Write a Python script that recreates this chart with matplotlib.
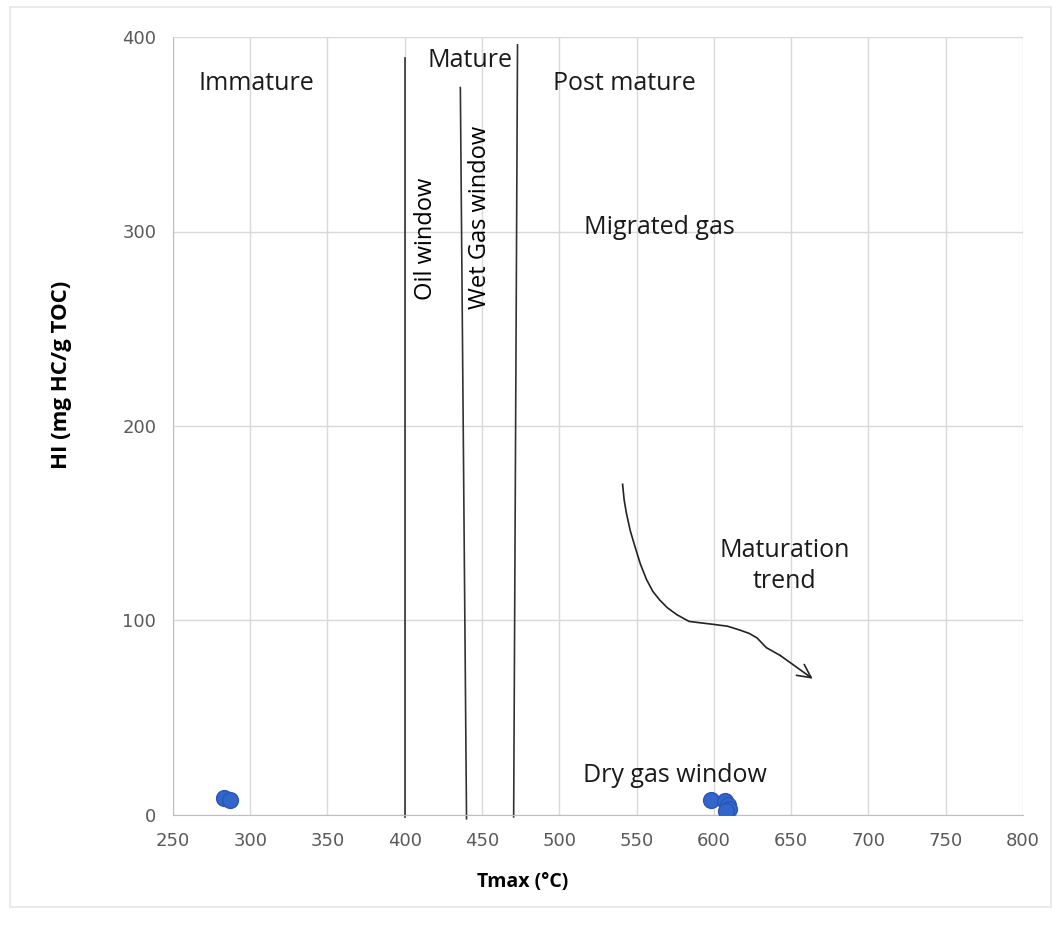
import numpy as np
import matplotlib.pyplot as plt
from matplotlib.patches import Rectangle

# sample points (Tmax degC, HI mg HC/g TOC)
tmax = [283, 287, 598, 607, 609, 610, 608]
hi = [8.5, 7.5, 7.5, 7, 5, 3, 2]

# maturity boundaries drawn by hand: (x bottom, y bottom, x top, y top)
bounds_x0 = [400, 440, 470.5]
bounds_y0 = [-1, -2, -1]
bounds_x1 = [400, 436, 473]
bounds_y1 = [389, 374, 396]

# hand drawn maturation trend curve
trend_x = [541, 542, 543.5, 546, 549, 552.5, 556.5, 560.5, 565, 570, 576, 584, 591, 599.5, 609, 617, 623, 628, 631, 634, 643]
trend_y = [170, 162, 155, 146, 138, 129, 121, 115, 110.5, 106.5, 103, 99.5, 98.8, 98, 97, 95, 93.3, 91, 88.5, 86, 82]
trend_tip = (664, 70)

labels = ['Immature', 'Mature', 'Post mature', 'Migrated gas', 'Dry gas window', 'Maturation\ntrend']
label_x = [304, 442, 542, 565, 575, 646]
label_y = [376, 388, 376, 302, 20, 128]

fig = plt.figure(figsize=(10.61, 9.26), dpi=100)
ax = fig.add_axes([0.163, 0.120, 0.801, 0.840])

# faint frame around the whole picture
fig.patches.append(Rectangle((0.009, 0.02), 0.982, 0.972, transform=fig.transFigure,
	fill=False, edgecolor='#e6e6e6', lw=1.2))

ax.set_xlim(250, 800)
ax.set_ylim(0, 400)
ax.set_xticks(np.arange(250, 801, 50))
ax.set_yticks(np.arange(0, 401, 100))
ax.grid(True, color='#d9d9d9', lw=1)
ax.set_axisbelow(True)
for s in ['top', 'right']:
	ax.spines[s].set_visible(False)
ax.spines['left'].set_color('#bfbfbf')
ax.spines['bottom'].set_color('#bfbfbf')
ax.tick_params(length=0, labelsize=13, labelcolor='#595959', pad=12)
for t in ax.get_xticklabels() + ax.get_yticklabels():
	t.set_family('DejaVu Sans')

ax.set_xlabel('Tmax (°C)', fontsize=14, fontweight='bold', family='Open Sans')
ax.set_ylabel('HI (mg HC/g TOC)', fontsize=16, fontweight='bold', family='Open Sans')
ax.xaxis.set_label_coords(0.412, -0.073)
ax.yaxis.set_label_coords(-0.119, 0.566)

for x0, y0, x1, y1 in zip(bounds_x0, bounds_y0, bounds_x1, bounds_y1):
	ax.plot([x0, x1], [y0, y1], color='#333333', lw=1.2, clip_on=False)

ax.text(414, 296, 'Oil window', rotation=90, ha='center', va='center', fontsize=17, family='Open Sans')
ax.text(449, 307, 'Wet Gas window', rotation=90, ha='center', va='center', fontsize=17, family='Open Sans')

for s, x, y in zip(labels, label_x, label_y):
	ax.text(x, y, s, ha='center', va='center', fontsize=18, family='Open Sans', color='#1a1a1a',
		linespacing=1.3)

ax.plot(trend_x, trend_y, color='#222222', lw=1.2, solid_joinstyle='round')
ax.annotate('', xy=trend_tip, xytext=(trend_x[-1], trend_y[-1]),
	arrowprops=dict(arrowstyle='->', color='#222222', lw=1.2, mutation_scale=24, shrinkA=0, shrinkB=0))

ax.scatter(tmax, hi, s=130, color='#3366cc', edgecolor='#2a55b5', zorder=5)

fig.savefig('out.png', dpi=100)
